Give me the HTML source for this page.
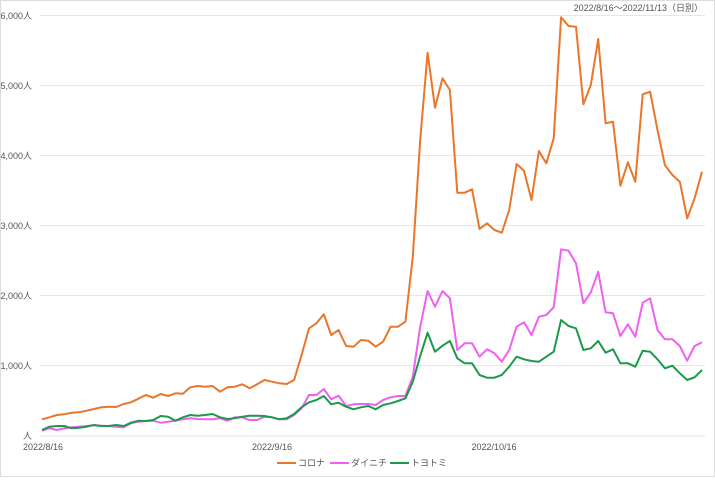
<!DOCTYPE html>
<html><head><meta charset="utf-8"><style>
body{margin:0;background:#fff}
svg text{font-family:"Liberation Sans","Noto Sans CJK JP",sans-serif;fill:#555}
</style></head><body>
<svg id="s" width="715" height="477" viewBox="0 0 715 477" xmlns="http://www.w3.org/2000/svg">
<rect x="0.5" y="0.5" width="714" height="476" fill="#fff" stroke="#ddd"/>
<text x="703" y="11" font-size="9" text-anchor="end">2022/8/16〜2022/11/13（日別）</text>
<g stroke="#e6e6e6" stroke-width="1">
<line x1="40" x2="705" y1="15.5" y2="15.5"/><line x1="40" x2="705" y1="85.5" y2="85.5"/>
<line x1="40" x2="705" y1="155.5" y2="155.5"/><line x1="40" x2="705" y1="225.5" y2="225.5"/>
<line x1="40" x2="705" y1="295.5" y2="295.5"/><line x1="40" x2="705" y1="365.5" y2="365.5"/>
<line x1="40" x2="705" y1="436" y2="436"/>
</g>
<g font-size="9" text-anchor="end">
<text x="32" y="19">6,000人</text><text x="32" y="89">5,000人</text><text x="32" y="159">4,000人</text>
<text x="32" y="229">3,000人</text><text x="32" y="299">2,000人</text><text x="32" y="369">1,000人</text>
<text x="32" y="439">人</text>
</g>
<g font-size="9" text-anchor="middle">
<text x="43" y="450">2022/8/16</text><text x="272" y="450">2022/9/16</text><text x="494" y="450">2022/10/16</text>
</g>
<g font-size="9">
<line x1="277" x2="296" y1="463" y2="463" stroke="#e8762b" stroke-width="2"/><text x="298" y="466">コロナ</text>
<line x1="330" x2="349" y1="463" y2="463" stroke="#f060f0" stroke-width="2"/><text x="351" y="466">ダイニチ</text>
<line x1="390" x2="409" y1="463" y2="463" stroke="#1a9a4a" stroke-width="2"/><text x="411" y="466">トヨトミ</text>
</g>
</svg>
<script>
var o1=[1258,1252,1245,1243,1238,1237,1232,1227,1222,1220,1221,1212,1207,1196,1185,1193,1182,1188,1180,1181,1162,1158,1160,1158,1175,1162,1160,1153,1165,1153,1140,1145,1150,1152,1140,1065,985,970,943,1005,990,1038,1040];
var o2=[1020,1022,1040,1025,980,980,965,770,420,158,323,235,270,578,578,568,687,670,690,698,630,492,512,600,453,490,415,52,78,80,313,255,117,370,365,557,487,545,283,275,390,495,525,545,655,595,515];
var m1=[1292,1285,1290,1285,1282,1280,1278,1276,1277,1278,1280,1282,1270,1265,1263,1262,1268,1265,1262,1258,1255,1257,1258,1258,1255,1262,1252,1252,1260,1260,1250,1252,1258,1258,1245,1225,1185,1185,1167,1198,1187,1218,1213];
var m2=[1212,1212,1215,1200,1192,1188,1188,1130,980,873,920,873,895,1050,1030,1030,1070,1048,1060,1085,1050,980,967,1005,950,945,922,748,752,790,910,877,815,937,940,1008,973,1010,908,895,990,1018,1018,1038,1082,1038,1027];
var g1=[1290,1280,1278,1278,1285,1283,1280,1275,1278,1278,1275,1278,1268,1262,1263,1260,1248,1250,1262,1252,1245,1247,1245,1242,1252,1257,1255,1250,1247,1247,1248,1252,1258,1255,1242,1222,1207,1200,1188,1213,1208,1220,1228];
var g2=[1222,1218,1228,1215,1210,1203,1195,1145,1068,998,1055,1037,1023,1075,1090,1090,1125,1133,1133,1125,1100,1070,1078,1083,1085,1070,1055,960,978,985,1050,1045,1023,1058,1048,1090,1090,1100,1052,1055,1078,1105,1097,1120,1140,1132,1110];
var s=document.getElementById('s');
function add(a,c){var p=a.map(function(v,i){return (42+7.416*i).toFixed(1)+','+(v/3).toFixed(1)}).join(' ');
var e=document.createElementNS('http://www.w3.org/2000/svg','polyline');e.setAttribute('points',p);e.setAttribute('fill','none');e.setAttribute('stroke',c);e.setAttribute('stroke-width','2');e.setAttribute('stroke-linejoin','round');s.appendChild(e);}
add(m1.concat(m2),'#f060f0');add(g1.concat(g2),'#1a9a4a');add(o1.concat(o2),'#e8762b');
</script>
</body></html>
